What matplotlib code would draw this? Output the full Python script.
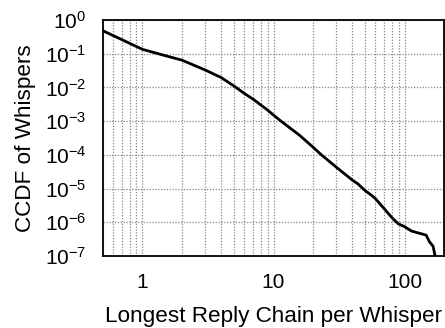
import numpy as np
import matplotlib
matplotlib.use('Agg')
import matplotlib.pyplot as plt
from matplotlib.ticker import LogLocator, FixedLocator, NullFormatter

plt.rcParams['font.family'] = ['Liberation Sans', 'DejaVu Sans']
plt.rcParams['mathtext.fontset'] = 'custom'
plt.rcParams['mathtext.rm'] = 'Liberation Sans'
plt.rcParams['mathtext.it'] = 'Liberation Sans'

# Longest reply chain (x) vs log10 of CCDF
chain = [0.5, 1, 1.5, 2, 3, 4, 5, 6, 7, 8, 9, 10, 11.4, 15.7, 20, 23.2,
         30, 40, 44, 50, 56, 60, 70, 80, 87, 90, 100, 113, 123, 146, 155,
         165, 171]
log_ccdf = [-0.32, -0.87, -1.06, -1.19, -1.48, -1.71, -1.96, -2.18, -2.35,
            -2.52, -2.67, -2.82, -3.0, -3.41, -3.77, -4.0, -4.36, -4.75,
            -4.86, -5.06, -5.2, -5.3, -5.6, -5.86, -6.0, -6.05, -6.13,
            -6.26, -6.30, -6.38, -6.58, -6.71, -7.0]
ccdf = [10 ** v for v in log_ccdf]

fig = plt.figure(figsize=(4.45, 3.28), dpi=100)
ax = fig.add_axes([0.2315, 0.2195, 0.7663, 0.7195])

ax.plot(chain, ccdf, color='black', lw=2)

ax.set_xscale('log')
ax.set_yscale('log')
ax.set_xlim(0.5, 200)
ax.set_ylim(1e-7, 1)

ax.xaxis.set_major_locator(FixedLocator([1, 10, 100]))
ax.xaxis.set_major_formatter(plt.FuncFormatter(lambda v, p: '%d' % v))
ax.xaxis.set_minor_locator(LogLocator(base=10, subs=np.arange(2, 10)))
ax.xaxis.set_minor_formatter(NullFormatter())
ax.yaxis.set_major_locator(FixedLocator([10.0 ** k for k in range(-7, 1)]))
ax.yaxis.set_major_formatter(plt.FuncFormatter(
    lambda v, p: r'$\mathregular{10^{%d}}$' % int(round(np.log10(v)))))
ax.yaxis.set_minor_locator(FixedLocator([]))

grid_style = dict(color='#888888', linestyle=(0, (1, 1.3)), linewidth=0.9)
ax.grid(True, which='major', axis='both', **grid_style)
ax.grid(True, which='minor', axis='x', **grid_style)

ax.tick_params(which='both', direction='in', length=0, labelsize=15)
ax.tick_params(axis='x', pad=12)
ax.tick_params(axis='y', pad=12)
for s in ax.spines.values():
    s.set_linewidth(1.3)

ax.set_xlabel('Longest Reply Chain per Whisper', fontsize=16.2, labelpad=10)
ax.set_ylabel('CCDF of Whispers', fontsize=16.2, labelpad=6)

fig.savefig('out.png', dpi=100)
